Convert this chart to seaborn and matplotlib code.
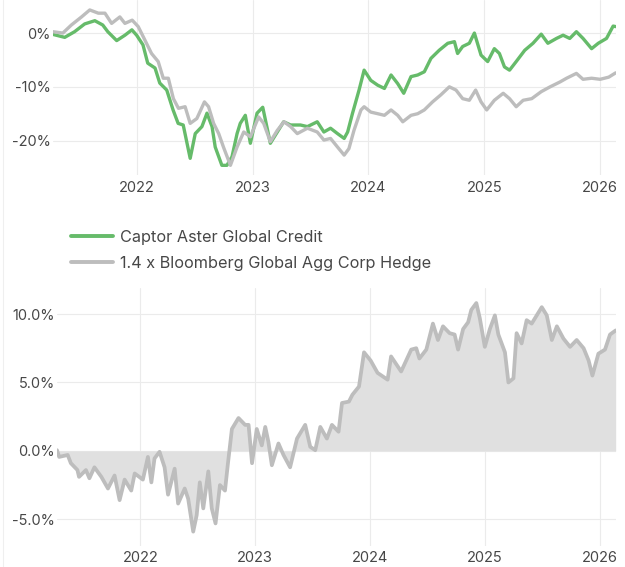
import numpy as np
import pandas as pd
import matplotlib
matplotlib.use("Agg")
import matplotlib.pyplot as plt
import matplotlib.dates as mdates
from matplotlib.ticker import FuncFormatter, FixedLocator
from matplotlib.transforms import Bbox
import seaborn as sns

# --- data (cumulative return, %) ---
captor_dates = [
    "2021-04-11", "2021-05-18", "2021-06-18", "2021-07-20", "2021-08-21", "2021-09-15",
    "2021-10-01", "2021-10-29", "2021-11-24", "2021-12-16", "2021-12-31", "2022-01-20",
    "2022-02-04", "2022-02-27", "2022-03-14", "2022-04-05", "2022-04-25", "2022-05-11",
    "2022-05-27", "2022-06-18", "2022-07-04", "2022-07-25", "2022-08-10", "2022-08-26",
    "2022-09-05", "2022-09-26", "2022-10-12", "2022-10-28", "2022-11-13", "2022-11-23",
    "2022-12-09", "2022-12-25", "2023-01-15", "2023-02-02", "2023-02-26", "2023-03-20",
    "2023-04-09", "2023-05-01", "2023-06-01", "2023-06-23", "2023-07-24", "2023-08-14",
    "2023-09-04", "2023-09-26", "2023-10-17", "2023-10-28", "2023-11-12", "2023-12-03",
    "2023-12-19", "2024-01-09", "2024-01-31", "2024-02-21", "2024-03-13", "2024-04-03",
    "2024-04-22", "2024-05-15", "2024-06-05", "2024-06-26", "2024-07-17", "2024-08-12",
    "2024-09-08", "2024-09-29", "2024-10-09", "2024-10-25", "2024-11-15", "2024-12-01",
    "2024-12-22", "2025-01-12", "2025-02-02", "2025-02-18", "2025-03-06", "2025-03-22",
    "2025-04-12", "2025-05-09", "2025-06-04", "2025-06-30", "2025-07-21", "2025-08-17",
    "2025-09-07", "2025-09-28", "2025-10-19", "2025-11-09", "2025-12-06", "2025-12-27",
    "2026-01-22", "2026-02-12", "2026-02-20",
]
captor_values = [
    -0.25, -0.8, 0.25, 1.7, 2.3, 1.5,
    0.25, -1.4, -0.4, 0.6, -0.4, -2.2,
    -5.6, -6.5, -9.3, -10.6, -14.3, -16.8,
    -17.1, -23.3, -18.7, -17.4, -14.9, -17.4,
    -21.2, -24.6, -24.6, -23.0, -18.7, -16.8,
    -15.3, -20.5, -14.9, -13.8, -20.5, -18.4,
    -16.5, -17.1, -17.1, -17.4, -16.5, -18.4,
    -17.7, -18.7, -19.6, -18.4, -15.0, -10.6,
    -6.9, -8.8, -9.7, -10.3, -7.8, -9.4,
    -11.2, -8.1, -7.8, -7.2, -4.7, -3.2,
    -1.9, -1.6, -3.8, -2.5, -1.9, 0.0,
    -4.1, -5.3, -2.9, -3.8, -6.3, -6.9,
    -5.3, -3.2, -1.9, -0.2, -1.9, -1.0,
    -0.4, -1.0, 0.25, -1.0, -2.9, -1.9,
    -1.0, 1.3, 1.2,
]

bench_dates = [
    "2021-04-11", "2021-05-12", "2021-06-08", "2021-07-10", "2021-08-05", "2021-09-01",
    "2021-09-22", "2021-10-13", "2021-11-08", "2021-11-24", "2021-12-17", "2022-01-05",
    "2022-01-26", "2022-02-16", "2022-03-09", "2022-03-25", "2022-04-10", "2022-04-26",
    "2022-05-12", "2022-06-02", "2022-06-18", "2022-07-09", "2022-08-02", "2022-08-15",
    "2022-08-31", "2022-09-16", "2022-10-01", "2022-10-23", "2022-11-13", "2022-12-04",
    "2022-12-25", "2023-01-20", "2023-02-05", "2023-02-26", "2023-03-20", "2023-04-10",
    "2023-05-01", "2023-05-22", "2023-06-23", "2023-07-24", "2023-08-14", "2023-09-04",
    "2023-09-26", "2023-10-17", "2023-11-01", "2023-11-17", "2023-12-09", "2023-12-19",
    "2024-01-09", "2024-01-31", "2024-02-21", "2024-03-13", "2024-04-03", "2024-04-19",
    "2024-05-15", "2024-06-05", "2024-06-26", "2024-07-22", "2024-08-17", "2024-09-13",
    "2024-10-04", "2024-10-25", "2024-11-15", "2024-12-05", "2024-12-22", "2025-01-09",
    "2025-02-02", "2025-03-02", "2025-03-22", "2025-04-12", "2025-05-04", "2025-05-31",
    "2025-06-30", "2025-07-28", "2025-08-28", "2025-09-18", "2025-10-19", "2025-11-09",
    "2025-12-06", "2026-01-02", "2026-01-29", "2026-02-20",
]
bench_values = [
    0.25, 0.0, 1.5, 3.0, 4.3, 3.7,
    3.7, 1.8, 3.0, 1.8, 2.4, 1.2,
    -1.3, -3.8, -5.3, -8.4, -8.4, -12.2,
    -14.0, -13.7, -16.8, -15.9, -12.8, -13.7,
    -16.8, -18.7, -21.2, -24.6, -21.2, -18.4,
    -19.3, -15.6, -16.8, -20.2, -18.1, -16.5,
    -17.4, -18.7, -17.7, -18.4, -19.9, -19.6,
    -21.2, -22.7, -21.5, -18.1, -14.3, -13.7,
    -14.7, -15.0, -15.3, -14.3, -15.3, -16.5,
    -15.3, -15.0, -14.3, -12.8, -11.5, -10.0,
    -10.6, -12.2, -12.5, -10.6, -12.8, -14.3,
    -12.5, -11.2, -12.2, -13.7, -12.5, -12.2,
    -10.9, -10.0, -9.1, -8.4, -7.5, -8.6,
    -8.4, -8.6, -8.2, -7.4,
]

# relative performance (Captor vs benchmark, %)
rel_dates = [
    "2021-04-11", "2021-04-18", "2021-05-15", "2021-05-25", "2021-06-15", "2021-06-20",
    "2021-07-12", "2021-07-23", "2021-08-08", "2021-08-30", "2021-09-20", "2021-10-11",
    "2021-10-27", "2021-11-12", "2021-12-03", "2021-12-14", "2022-01-09", "2022-01-25",
    "2022-02-05", "2022-02-15", "2022-03-03", "2022-03-19", "2022-03-30", "2022-04-20",
    "2022-05-01", "2022-05-22", "2022-06-02", "2022-06-18", "2022-06-29", "2022-07-09",
    "2022-07-20", "2022-08-05", "2022-08-16", "2022-08-28", "2022-09-11", "2022-09-27",
    "2022-10-06", "2022-10-19", "2022-11-09", "2022-11-30", "2022-12-11", "2022-12-22",
    "2023-01-06", "2023-01-22", "2023-02-02", "2023-02-12", "2023-02-23", "2023-03-16",
    "2023-04-01", "2023-04-22", "2023-05-14", "2023-06-09", "2023-06-25", "2023-07-11",
    "2023-07-27", "2023-08-17", "2023-09-02", "2023-09-23", "2023-10-04", "2023-10-26",
    "2023-11-06", "2023-11-27", "2023-12-13", "2024-01-03", "2024-01-25", "2024-02-26",
    "2024-03-08", "2024-04-09", "2024-05-11", "2024-05-27", "2024-06-06", "2024-06-28",
    "2024-07-19", "2024-08-04", "2024-08-20", "2024-09-10", "2024-09-26", "2024-10-07",
    "2024-10-23", "2024-11-08", "2024-11-18", "2024-12-04", "2024-12-15", "2024-12-31",
    "2025-01-16", "2025-02-01", "2025-02-12", "2025-03-05", "2025-03-16", "2025-04-01",
    "2025-04-11", "2025-04-27", "2025-05-13", "2025-05-29", "2025-06-14", "2025-06-30",
    "2025-07-16", "2025-08-01", "2025-08-17", "2025-09-07", "2025-09-28", "2025-10-19",
    "2025-11-10", "2025-11-26", "2025-12-08", "2025-12-27", "2026-01-17", "2026-02-02",
    "2026-02-20",
]
rel_values = [
    0.05, -0.44, -0.3, -0.9, -1.4, -1.9,
    -1.4, -2.0, -1.2, -1.9, -2.75, -1.8,
    -3.6, -2.1, -2.9, -1.65, -2.1, -0.44,
    -2.3, -0.55, -0.07, -1.2, -3.2, -1.3,
    -3.85, -2.75, -3.5, -5.9, -4.7, -2.3,
    -4.2, -1.5, -4.2, -5.3, -2.5, -2.9,
    -1.0, 1.6, 2.4, 1.9, 1.9, -0.9,
    1.6, 0.4, 1.75, 0.66, -1.05, 0.54,
    -0.3, -1.2, 0.9, 1.9, 0.3, 0.05,
    1.75, 0.9, 1.9, 1.4, 3.5, 3.6,
    4.1, 4.7, 7.2, 6.6, 5.7, 5.2,
    6.9, 5.8, 7.4, 7.5, 6.75, 7.4,
    9.3, 8.1, 9.1, 8.6, 8.5, 7.4,
    8.9, 9.4, 10.3, 10.8, 9.7, 7.6,
    8.9, 9.9, 8.5, 7.2, 5.0, 5.3,
    8.6, 7.85, 9.55, 9.3, 9.9, 10.5,
    9.9, 8.1, 9.1, 8.2, 7.6, 8.1,
    7.5, 6.6, 5.5, 7.1, 7.4, 8.5,
    8.8,
]

series_names = ["Captor Aster Global Credit", "1.4 x Bloomberg Global Agg Corp Hedged"]
year_ticks = ["2022", "2023", "2024", "2025", "2026"]
top_yticks = [0, -10, -20]
bottom_yticks = [10, 5, 0, -5]

GREEN = "#66bb6a"
GREY = "#bdbdbd"
FILL = "#e0e0e0"
GRID = "#ebebeb"
TEXT = "#474747"

sns.set_theme(style="whitegrid")
plt.rcParams["font.family"] = ["Inter", "DejaVu Sans"]
plt.rcParams.update({
    "axes.edgecolor": "white",
    "grid.color": GRID,
    "grid.linewidth": 0.8,
    "xtick.color": TEXT,
    "ytick.color": TEXT,
    "xtick.labelsize": 10.5,
    "ytick.labelsize": 10.5,
})

perf = pd.concat([
    pd.DataFrame({"date": pd.to_datetime(captor_dates), "value": captor_values, "series": series_names[0]}),
    pd.DataFrame({"date": pd.to_datetime(bench_dates), "value": bench_values, "series": series_names[1]}),
])
rel = pd.DataFrame({"date": pd.to_datetime(rel_dates), "value": rel_values})

W, H = 625, 567
fig = plt.figure(figsize=(W / 100, H / 100), dpi=100)
ax1 = fig.add_axes([53 / W, 1 - 175 / H, (616 - 53) / W, 175 / H])
ax2 = fig.add_axes([57 / W, 1 - 546 / H, (616 - 57) / W, (546 - 288) / H])

x0, x1 = pd.Timestamp("2021-04-11"), pd.Timestamp("2026-02-21")

# top panel: cumulative performance (benchmark drawn over the fund line)
sns.lineplot(data=perf, x="date", y="value", hue="series", hue_order=series_names,
             palette={series_names[0]: GREEN, series_names[1]: GREY},
             linewidth=2.4, ax=ax1, legend=False)
ax1.set_ylim(-26.4, 6.15)
ax1.yaxis.set_major_locator(FixedLocator(top_yticks))
ax1.yaxis.set_major_formatter(FuncFormatter(lambda v, p: f"{v:.0f}%"))

# bottom panel: relative performance
ax2.fill_between(rel["date"], 0, rel["value"], color=FILL, linewidth=0, zorder=1)
sns.lineplot(data=rel, x="date", y="value", color=GREY, linewidth=2.7, ax=ax2, zorder=2)
ax2.set_ylim(-6.95, 11.9)
ax2.yaxis.set_major_locator(FixedLocator(bottom_yticks))
ax2.yaxis.set_major_formatter(FuncFormatter(lambda v, p: f"{v:.1f}%"))

for ax, pad in ((ax1, 4.5), (ax2, 3.5)):
    ax.set_xlim(x0, x1)
    ax.xaxis.set_major_locator(FixedLocator([mdates.date2num(pd.Timestamp(y)) for y in year_ticks]))
    ax.xaxis.set_major_formatter(mdates.DateFormatter("%Y"))
    ax.set_xlabel("")
    ax.set_ylabel("")
    ax.tick_params(axis="both", length=0)
    ax.tick_params(axis="x", pad=pad)
    ax.tick_params(axis="y", pad=1.5)
    for s in ax.spines.values():
        s.set_visible(False)
    ax.grid(True, color=GRID, linewidth=0.8)
    ax.set_axisbelow(True)

# legend between panels
handles = [plt.Line2D([], [], color=GREEN, linewidth=2.8),
           plt.Line2D([], [], color=GREY, linewidth=2.8)]
leg = fig.legend(handles, series_names, loc="upper left",
                 bbox_to_anchor=(71 / W, 1 - 230 / H), frameon=False,
                 fontsize=11.7, handlelength=2.6, handletextpad=0.42,
                 labelspacing=0.68, borderaxespad=0, borderpad=0)
clip = Bbox.from_extents(0, 0, 432, H)
for t in leg.get_texts():
    t.set_color(TEXT)
    t.set_clip_box(clip)
    t.set_clip_on(True)

# thin container border on the left
fig.add_artist(plt.Line2D([3 / W, 3 / W], [0, 1], color="#efefef", linewidth=0.8))

fig.savefig("out.png", dpi=100)
